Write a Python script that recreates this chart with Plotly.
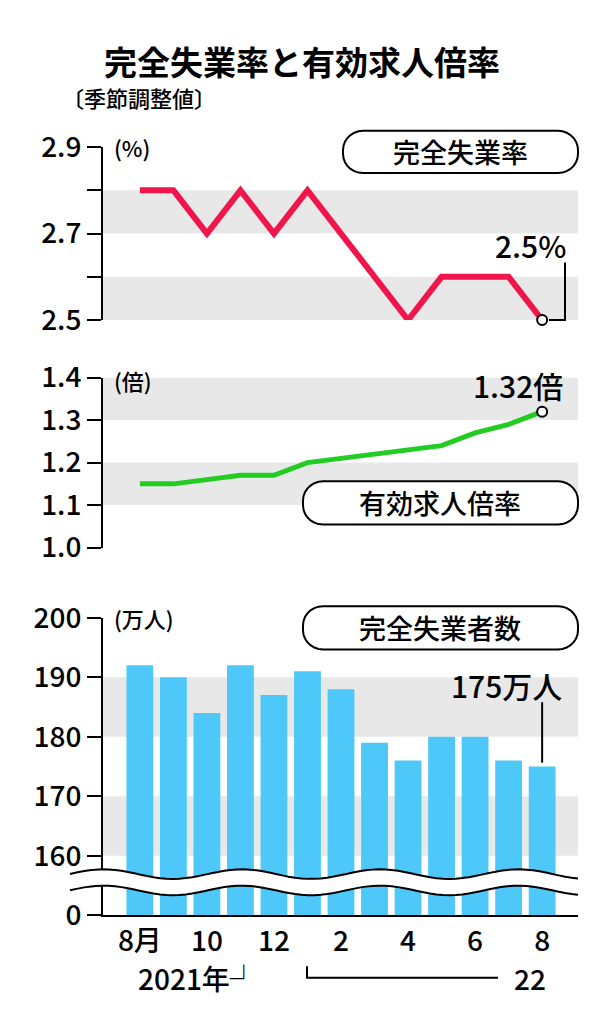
import plotly.graph_objects as go
import numpy as np

months = ["2021-08","2021-09","2021-10","2021-11","2021-12","2022-01","2022-02",
          "2022-03","2022-04","2022-05","2022-06","2022-07","2022-08"]
unemp_rate = [2.8,2.8,2.7,2.8,2.7,2.8,2.7,2.6,2.5,2.6,2.6,2.6,2.5]
job_ratio = [1.15,1.15,1.16,1.17,1.17,1.20,1.21,1.22,1.23,1.24,1.27,1.29,1.32]
unemployed = [192,190,184,192,187,191,188,179,176,180,180,176,175]
x_ticklabels = ["8月","10","12","2","4","6","8"]

xi = list(range(len(months)))
F = "Noto Sans CJK JP"
W, H, M = 604, 1024, 8
def px(p): return (p - M) / (W - 2*M)
def py(p): return 1 - (p - M) / (H - 2*M)

fig = go.Figure()
fig.add_trace(go.Scatter(x=xi, y=unemp_rate, mode="lines", line=dict(color="#f0154a", width=6),
                         xaxis="x", yaxis="y", showlegend=False))
fig.add_trace(go.Scatter(x=[xi[-1]], y=[unemp_rate[-1]], mode="markers",
                         marker=dict(size=10, color="white", line=dict(color="black", width=2)),
                         xaxis="x", yaxis="y", showlegend=False, cliponaxis=False))
fig.add_trace(go.Scatter(x=xi, y=job_ratio, mode="lines", line=dict(color="#22cc22", width=5),
                         xaxis="x2", yaxis="y2", showlegend=False))
fig.add_trace(go.Scatter(x=[xi[-1]], y=[job_ratio[-1]], mode="markers",
                         marker=dict(size=10, color="white", line=dict(color="black", width=2)),
                         xaxis="x2", yaxis="y2", showlegend=False, cliponaxis=False))
fig.add_trace(go.Bar(x=xi, y=[v-150 for v in unemployed], base=150, width=0.8,
                     marker=dict(color="#4dc8f8", line=dict(width=0)),
                     xaxis="x3", yaxis="y3", showlegend=False))

xr = [-1.1, 13.07]
xd = [px(103), px(578)]
ax = dict(range=xr, domain=xd, showgrid=False, zeroline=False, showticklabels=False, ticks="")
TF = dict(family=F, size=28, color="black", weight=500)
yc = dict(showgrid=False, zeroline=False, ticks="outside", ticklen=14, tickwidth=2,
          showline=True, linecolor="black", linewidth=2, tickcolor="black",
          tickfont=TF)
fig.update_layout(
    width=W - 2*M, height=H - 2*M, margin=dict(l=0, r=0, t=0, b=0),
    plot_bgcolor="white", paper_bgcolor="white",
    xaxis=dict(**ax, anchor="y"),
    xaxis2=dict(**ax, anchor="y2"),
    xaxis3=dict(range=xr, domain=xd, showgrid=False, zeroline=False, anchor="y3",
                tickvals=[0,2,4,6,8,10,12], ticktext=x_ticklabels, ticks="",
                showline=True, linecolor="black", linewidth=2, tickfont=TF),
    yaxis=dict(**yc, domain=[py(310), py(130)], range=[2.5, 2.9],
               tickvals=[2.5,2.7,2.9], ticktext=["2.5","2.7","2.9"],
               minor=dict(ticks="outside", ticklen=14, tickwidth=2, tickcolor="black",
                          tickvals=[2.6, 2.8])),
    yaxis2=dict(**yc, domain=[py(547), py(370)], range=[1.0, 1.4],
                tickvals=[1.0,1.1,1.2,1.3,1.4], ticktext=["1.0","1.1","1.2","1.3","1.4"]),
    yaxis3=dict(**yc, domain=[py(930), py(620)], range=[150, 200],
                tickvals=[150,160,170,180,190,200], ticktext=["0","160","170","180","190","200"]),
)

shapes = []
def band(yref, a, b):
    shapes.append(dict(type="rect", xref="x domain", yref=yref, x0=0, x1=1, y0=a, y1=b,
                       fillcolor="#e8e8e8", line=dict(width=0), layer="below"))
band("y", 2.5, 2.6); band("y", 2.7, 2.8)
band("y2", 1.1, 1.2); band("y2", 1.3, 1.4)
band("y3", 160, 170); band("y3", 180, 190)

# wavy axis break
xs_px = np.linspace(70, 578, 80)
wv = 5*np.sin(xs_px/22)
top = [py(887 + v) for v in wv]
bot = [py(904 + v) for v in wv]
xs = [px(v) for v in xs_px]
path = "M " + " L ".join(f"{a},{b}" for a, b in zip(xs, top))
path += " L " + " L ".join(f"{a},{b}" for a, b in zip(xs[::-1], bot[::-1])) + " Z"
shapes.append(dict(type="path", xref="paper", yref="paper", path=path,
                   fillcolor="white", line=dict(width=0), layer="above"))
for yy in (top, bot):
    shapes.append(dict(type="path", xref="paper", yref="paper",
                       path="M " + " L ".join(f"{a},{b}" for a, b in zip(xs, yy)),
                       line=dict(color="black", width=2), layer="above"))
# leader lines
shapes.append(dict(type="path", xref="paper", yref="paper",
                   path=f"M {px(549)},{py(310)} L {px(565)},{py(310)} L {px(565)},{py(250)}",
                   line=dict(color="black", width=2)))
shapes.append(dict(type="line", xref="x3", yref="paper", x0=12, x1=12, y0=py(771), y1=py(708),
                   line=dict(color="black", width=2)))
# year bracket
shapes.append(dict(type="path", xref="paper", yref="paper",
                   path=f"M {px(307)},{py(983)} L {px(307)},{py(995)} L {px(498)},{py(995)}",
                   line=dict(color="black", width=2)))
# rounded label boxes
def rbox(x0, y0, x1, y1, r=20):
    pts = []
    for cx, cy, a0 in [(x1-r, y0+r, -90), (x1-r, y1-r, 0), (x0+r, y1-r, 90), (x0+r, y0+r, 180)]:
        for a in np.linspace(a0, a0+90, 8):
            t = np.radians(a)
            pts.append((px(cx + r*np.cos(t)), py(cy + r*np.sin(t))))
    p = "M " + " L ".join(f"{a},{b}" for a, b in pts) + " Z"
    shapes.append(dict(type="path", xref="paper", yref="paper", path=p,
                       fillcolor="white", line=dict(color="black", width=2)))
rbox(343, 113, 578, 157)
rbox(303, 478, 578, 523)
rbox(303, 608, 578, 653)
fig.update_layout(shapes=shapes)

ann = []
def T(x, y, s, size, xa="center", w=500):
    ann.append(dict(x=px(x), y=py(y), xref="paper", yref="paper", text=s, showarrow=False,
                    xanchor=xa, yanchor="middle",
                    font=dict(family=F, size=size, color="black", weight=w)))
T(302, 40, "完全失業率と有効求人倍率", 33, w=700)
T(60, 78, "〔季節調整値〕", 22, xa="left")
T(112, 130, "(%)", 22, xa="left")
T(112, 372, "(倍)", 22, xa="left")
T(112, 620, "(万人)", 22, xa="left")
T(460, 135, "完全失業率", 27)
T(440, 500, "有効求人倍率", 27)
T(440, 630, "完全失業者数", 27)
T(530, 232, "2.5%", 30)
T(518, 378, "1.32倍", 30)
T(506, 690, "175万人", 30)
T(198, 995, "2021年┘", 28)
T(530, 995, "22", 28)
fig.update_layout(annotations=ann)

fig.write_html("out.html")
